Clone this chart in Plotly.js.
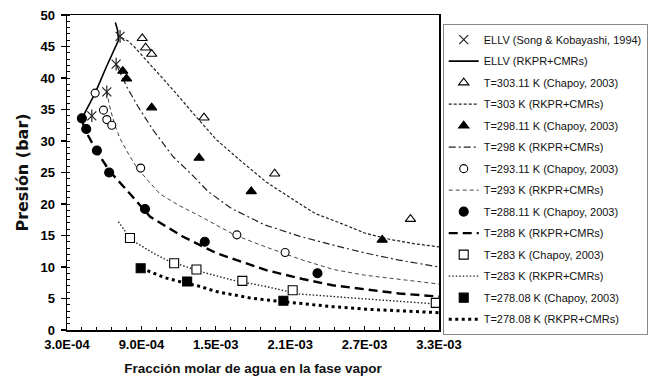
<!DOCTYPE html>
<html>
<head>
<meta charset="utf-8">
<script src="https://cdn.plot.ly/plotly-3.0.1.min.js"></script>
<style>html,body{margin:0;padding:0;background:#fff;}#chart{width:664px;height:381px;}</style>
</head>
<body>
<div id="chart"></div>
<script>
// ---- data ----
const xTickVals = [3.0e-4, 9.0e-4, 1.5e-3, 2.1e-3, 2.7e-3, 3.3e-3];
const xTickText = ['3.0E-04', '9.0E-04', '1.5E-03', '2.1E-03', '2.7E-03', '3.3E-03'];

const ellvExpX = [5.0e-4, 6.21e-4, 6.96e-4, 7.28e-4];
const ellvExpY = [34.0, 37.8, 42.2, 46.6];
const ellvModX = [4.31e-4, 5.27e-4, 6.16e-4, 7.16e-4, 7.08e-4, 6.9e-4];
const ellvModY = [34.0, 37.6, 41.7, 46.0, 47.6, 48.8];

const t303ExpX = [9.07e-4, 9.34e-4, 9.83e-4, 1.405e-3, 1.975e-3, 3.07e-3];
const t303ExpY = [46.3, 44.8, 43.8, 33.7, 24.8, 17.6];
const t303ModX = [7.4e-4, 7.9e-4, 8.4e-4, 9.15e-4, 1.023e-3, 1.156e-3, 1.317e-3, 1.505e-3, 1.692e-3, 1.906e-3, 2.1e-3, 2.3e-3, 2.5e-3, 2.7e-3, 2.9e-3, 3.1e-3, 3.3e-3];
const t303ModY = [46.4, 45.9, 45.0, 43.4, 41.0, 38.1, 34.4, 30.2, 27.0, 23.5, 21.0, 18.5, 17.0, 15.4, 14.4, 13.7, 13.2];

const t298ExpX = [7.5e-4, 7.8e-4, 9.83e-4, 1.365e-3, 1.786e-3, 2.842e-3];
const t298ExpY = [41.1, 39.9, 35.3, 27.3, 22.0, 14.3];
const t298ModX = [6.96e-4, 7.82e-4, 8.75e-4, 9.96e-4, 1.156e-3, 1.3e-3, 1.437e-3, 1.625e-3, 1.893e-3, 2.173e-3, 2.441e-3, 2.709e-3, 2.977e-3, 3.3e-3];
const t298ModY = [42.2, 38.6, 35.4, 31.7, 27.5, 24.8, 22.0, 19.3, 16.7, 14.9, 13.5, 12.2, 11.1, 10.0];

const t293ExpX = [5.27e-4, 5.94e-4, 6.21e-4, 6.61e-4, 8.94e-4, 1.67e-3, 2.059e-3];
const t293ExpY = [37.6, 34.9, 33.4, 32.5, 25.7, 15.1, 12.3];
const t293ModX = [6.21e-4, 6.5e-4, 6.9e-4, 7.3e-4, 8.0e-4, 8.6e-4, 9.4e-4, 1.05e-3, 1.2e-3, 1.36e-3, 1.65e-3, 1.9e-3, 2.2e-3, 2.45e-3, 2.7e-3, 3.0e-3, 3.3e-3];
const t293ModY = [37.8, 35.0, 32.3, 30.3, 27.8, 25.9, 24.0, 21.6, 19.8, 18.2, 15.1, 13.2, 11.1, 9.6, 8.7, 8.0, 7.3];

const t288ExpX = [4.2e-4, 4.55e-4, 5.41e-4, 6.4e-4, 9.29e-4, 1.411e-3, 2.32e-3];
const t288ExpY = [33.6, 31.9, 28.5, 25.0, 19.2, 14.0, 9.0];
const t288ModX = [4.25e-4, 4.47e-4, 5.41e-4, 6.48e-4, 7.82e-4, 9.69e-4, 1.237e-3, 1.505e-3, 1.906e-3, 2.2e-3, 2.441e-3, 2.709e-3, 2.977e-3, 3.3e-3];
const t288ModY = [33.0, 31.7, 28.3, 25.1, 22.2, 18.0, 14.8, 12.2, 9.5, 8.1, 7.1, 6.5, 5.8, 5.3];

const t283ExpX = [8.08e-4, 1.164e-3, 1.344e-3, 1.714e-3, 2.12e-3, 3.274e-3];
const t283ExpY = [14.6, 10.6, 9.6, 7.8, 6.3, 4.3];
const t283ModX = [7.14e-4, 8.08e-4, 8.62e-4, 9.96e-4, 1.103e-3, 1.371e-3, 1.638e-3, 1.906e-3, 2.173e-3, 2.441e-3, 2.709e-3, 2.977e-3, 3.3e-3];
const t283ModY = [17.2, 14.6, 13.8, 12.2, 11.1, 9.3, 7.9, 6.9, 5.7, 5.3, 4.9, 4.5, 4.1];

const t278ExpX = [8.94e-4, 1.269e-3, 2.045e-3];
const t278ExpY = [9.8, 7.7, 4.65];
const t278ModX = [9.0e-4, 1.0e-3, 1.09e-3, 1.264e-3, 1.357e-3, 1.505e-3, 1.625e-3, 1.772e-3, 1.893e-3, 2.04e-3, 2.208e-3, 2.441e-3, 2.709e-3, 2.977e-3, 3.3e-3];
const t278ModY = [9.8, 9.0, 8.3, 7.4, 7.0, 6.1, 5.6, 5.1, 4.8, 4.5, 4.1, 3.7, 3.3, 3.1, 2.75];

const names = [
  'ELLV (Song & Kobayashi, 1994)', 'ELLV (RKPR+CMRs)',
  'T=303.11 K (Chapoy, 2003)', 'T=303 K (RKPR+CMRs)',
  'T=298.11 K (Chapoy, 2003)', 'T=298 K (RKPR+CMRs)',
  'T=293.11 K (Chapoy, 2003)', 'T=293 K (RKPR+CMRs)',
  'T=288.11 K (Chapoy, 2003)', 'T=288 K (RKPR+CMRs)',
  'T=283 K (Chapoy, 2003)', 'T=283 K (RKPR+CMRs)',
  'T=278.08 K (Chapoy, 2003)', 'T=278.08 K (RKPR+CMRs)'
];

// ---- traces ----
function lineTrace(x, y, idx, line) {
  return {x: x, y: y, type: 'scatter', mode: 'lines', name: names[idx],
          legendgroup: 'g' + idx, legendrank: idx + 1, line: line, hoverinfo: 'skip'};
}
function markTrace(x, y, idx, symbol, fill, size) {
  return {x: x, y: y, type: 'scatter', mode: 'markers', name: names[idx],
          legendgroup: 'g' + idx, legendrank: idx + 1,
          marker: {symbol: symbol, size: size || 8, color: fill,
                   line: {color: '#000', width: 1.1}}};
}

const traces = [
  lineTrace(ellvModX, ellvModY, 1, {color: '#000', width: 1.6}),
  lineTrace(t303ModX, t303ModY, 3, {color: '#222', width: 1.2, dash: '3px,2px'}),
  lineTrace(t298ModX, t298ModY, 5, {color: '#222', width: 1.2, dash: '7px,3px,2px,3px'}),
  lineTrace(t293ModX, t293ModY, 7, {color: '#444', width: 1.0, dash: '4px,3px'}),
  lineTrace(t288ModX, t288ModY, 9, {color: '#000', width: 2.4, dash: '9px,5px'}),
  lineTrace(t283ModX, t283ModY, 11, {color: '#222', width: 1.4, dash: '1.5px,2px'}),
  lineTrace(t278ModX, t278ModY, 13, {color: '#000', width: 3, dash: '3px,3.5px'}),
  markTrace(t303ExpX, t303ExpY, 2, 'triangle-up', '#fff', 9),
  markTrace(t298ExpX, t298ExpY, 4, 'triangle-up', '#000', 9),
  markTrace(t293ExpX, t293ExpY, 6, 'circle', '#fff', 8),
  markTrace(t288ExpX, t288ExpY, 8, 'circle', '#000', 9),
  markTrace(t283ExpX, t283ExpY, 10, 'square', '#fff', 9),
  markTrace(t278ExpX, t278ExpY, 12, 'square', '#000', 9),
  {x: ellvExpX, y: ellvExpY, type: 'scatter', mode: 'markers', name: names[0],
   legendgroup: 'g0', legendrank: 1,
   marker: {symbol: 'x-thin-open', size: 9, color: '#222', line: {color: '#222', width: 1.2}}},
  {x: ellvExpX, y: ellvExpY, type: 'scatter', mode: 'markers', name: names[0],
   legendgroup: 'g0', showlegend: false,
   marker: {symbol: 'line-ns-open', size: 9, color: '#222', line: {color: '#222', width: 1.2}}}
];

const tickFont = {family: 'Liberation Sans, Arial, sans-serif', size: 13, weight: 'bold', color: '#000'};

const layout = {
  width: 664, height: 381,
  margin: {l: 67, r: 225, t: 15, b: 51},
  paper_bgcolor: '#fff', plot_bgcolor: '#fff',
  showlegend: true,
  xaxis: {
    range: [3.0e-4, 3.3e-3], tickmode: 'array', tickvals: xTickVals, ticktext: xTickText,
    ticks: 'inside', ticklen: 4, tickwidth: 1.3, tickcolor: '#000',
    showline: true, linecolor: '#000', linewidth: 1.5, mirror: true,
    showgrid: false, zeroline: false, tickfont: tickFont, ticklabelstandoff: 2,
    minor: {tickmode: 'linear', tick0: 3.0e-4, dtick: 1.2e-4, ticks: 'inside', ticklen: 3, tickwidth: 1, tickcolor: '#000', showgrid: false},
    title: {text: 'Fracción molar de agua en la fase vapor', standoff: 12,
            font: {family: 'Liberation Sans, Arial, sans-serif', size: 13.5, weight: 'bold', color: '#111'}}
  },
  yaxis: {
    range: [0, 50], dtick: 5, tick0: 0,
    ticks: 'outside', ticklen: 5, tickwidth: 1.3, tickcolor: '#000',
    showline: true, linecolor: '#000', linewidth: 1.5, mirror: true,
    showgrid: false, zeroline: false, tickfont: tickFont, ticklabelstandoff: 3,
    minor: {tickmode: 'linear', tick0: 0, dtick: 1, ticks: 'inside', ticklen: 3, tickwidth: 1, tickcolor: '#000', showgrid: false},
    title: {text: 'Presión (bar)', standoff: 8,
            font: {family: 'DejaVu Sans, sans-serif', size: 16, weight: 'bold', color: '#111'}}
  },
  xaxis2: {overlaying: 'x', anchor: 'y', side: 'bottom', range: [3.0e-4, 3.3e-3], tickmode: 'array', tickvals: xTickVals,
           ticks: 'outside', ticklen: 5, tickwidth: 1.3, tickcolor: '#000', showticklabels: false,
           showline: false, showgrid: false, zeroline: false},
  yaxis2: {overlaying: 'y', anchor: 'x', side: 'left', range: [0, 50], dtick: 5, tick0: 0,
           ticks: 'inside', ticklen: 4, tickwidth: 1.3, tickcolor: '#000', showticklabels: false,
           showline: false, showgrid: false, zeroline: false},
  legend: {
    x: 1.01, xanchor: 'left', y: 0.971, yanchor: 'top',
    bgcolor: '#fff', bordercolor: '#888', borderwidth: 1,
    font: {family: 'Liberation Sans, Arial, sans-serif', size: 11, color: '#111'},
    traceorder: 'grouped', tracegroupgap: 2.5, itemwidth: 30
  }
};

Plotly.newPlot('chart', traces, layout, {displayModeBar: false, staticPlot: true});
</script>
</body>
</html>
